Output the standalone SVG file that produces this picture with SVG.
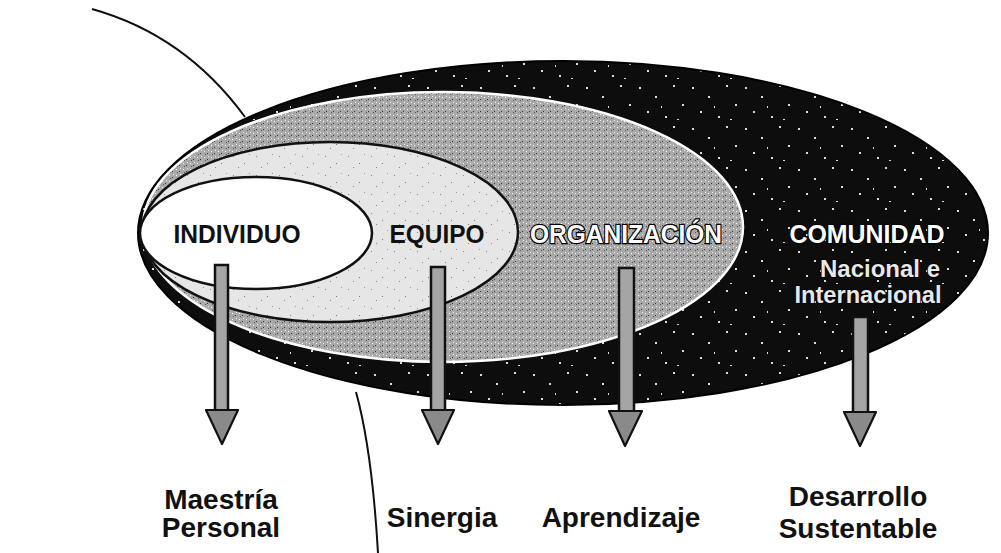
<svg xmlns="http://www.w3.org/2000/svg" width="1001" height="553" viewBox="0 0 1001 553">
<style>
.lbl{font-family:"Liberation Sans",Arial,sans-serif;font-weight:bold;font-size:28px;fill:#111;text-anchor:middle}
.top{font-family:"Liberation Sans",Arial,sans-serif;font-weight:bold;font-size:26px;text-anchor:middle}
.hollow{fill:#fff;stroke:#000;stroke-width:2.4;paint-order:stroke}
.sub{font-family:"Liberation Sans",Arial,sans-serif;font-weight:bold;font-size:24px;text-anchor:middle;fill:#e8e8e8;stroke:#000;stroke-width:1.6;paint-order:stroke}
.shaft{fill:#a5a5a5;stroke:#111;stroke-width:2.5}
.head{fill:#8a8a8a;stroke:#111;stroke-width:2.2;stroke-linejoin:round}
.line{fill:none;stroke:#111;stroke-width:2}
</style>
<defs>
<pattern id="stars" width="53" height="41" patternUnits="userSpaceOnUse">
<rect width="53" height="41" fill="#0d0d0d"/>
<g fill="#fff" opacity="0.85">
<rect x="3" y="5" width="2" height="2"/><rect x="19" y="14" width="2" height="2"/><rect x="37" y="3" width="2" height="2"/>
<rect x="46" y="22" width="2" height="2"/><rect x="11" y="29" width="2" height="2"/><rect x="29" y="34" width="2" height="2"/>
<rect x="41" y="37" width="2" height="1"/><rect x="25" y="24" width="1" height="2"/>
</g>
</pattern>
<pattern id="grain" width="7" height="6" patternUnits="userSpaceOnUse">
<rect width="7" height="6" fill="#a9a9a9"/>
<rect x="1" y="1" width="1" height="1" fill="#fff"/><rect x="4" y="3" width="1" height="1" fill="#333"/>
<rect x="5" y="0" width="1" height="1" fill="#eee"/><rect x="2" y="4" width="1" height="1" fill="#555"/>
</pattern>
<pattern id="light" width="23" height="19" patternUnits="userSpaceOnUse">
<rect width="23" height="19" fill="#e6e6e6"/>
<rect x="3" y="4" width="1" height="1" fill="#888"/><rect x="14" y="11" width="1" height="1" fill="#777"/>
<rect x="19" y="2" width="1" height="1" fill="#999"/><rect x="8" y="15" width="1" height="1" fill="#888"/>
</pattern>
</defs>

<g id="node-comunidad">
<ellipse cx="563" cy="233" rx="425" ry="172" fill="url(#stars)" stroke="#000" stroke-width="2"/>
<text class="top hollow" x="867" y="243" textLength="155" lengthAdjust="spacingAndGlyphs">COMUNIDAD</text>
<text class="sub" x="880" y="277" textLength="120" lengthAdjust="spacingAndGlyphs">Nacional e</text>
<text class="sub" x="868" y="303" textLength="147" lengthAdjust="spacingAndGlyphs">Internacional</text>
</g>

<g id="node-organizacion">
<ellipse cx="443" cy="227" rx="300" ry="135" fill="url(#grain)" stroke="#fff" stroke-width="2.5"/>
<text class="top hollow" x="626" y="243" textLength="192" lengthAdjust="spacingAndGlyphs">ORGANIZACIÓN</text>
</g>

<g id="node-equipo">
<ellipse cx="330" cy="232" rx="188" ry="90" fill="url(#light)" stroke="#111" stroke-width="2.5"/>
<text class="top" x="437" y="243" fill="#111" textLength="95" lengthAdjust="spacingAndGlyphs">EQUIPO</text>
</g>

<g id="node-individuo">
<ellipse cx="256" cy="233" rx="116" ry="56" fill="#fff" stroke="#111" stroke-width="2.5"/>
<text class="top" x="237" y="243" fill="#111" textLength="127" lengthAdjust="spacingAndGlyphs">INDIVIDUO</text>
</g>

<g id="connectors">
<path class="line" d="M92,9 Q185,35 245,117"/>
<path class="line" d="M356,392 Q372,450 378,553" stroke-width="1.6"/>
<rect class="shaft" x="215" y="265" width="13" height="146"/>
<polygon class="head" points="206,410 238,410 222,444"/>
<rect class="shaft" x="431" y="267" width="14" height="144"/>
<polygon class="head" points="422,410 454,410 438,444"/>
<rect class="shaft" x="619" y="268" width="15" height="144"/>
<polygon class="head" points="609,411 642,411 625,446"/>
<rect class="shaft" x="853" y="317" width="15" height="96"/>
<polygon class="head" points="844,412 876,412 860,446"/>
</g>

<g id="label-maestria"><text class="lbl" x="221" y="509">Maestría</text><text class="lbl" x="221" y="537">Personal</text></g>
<g id="label-sinergia"><text class="lbl" x="442" y="527">Sinergia</text></g>
<g id="label-aprendizaje"><text class="lbl" x="621" y="527">Aprendizaje</text></g>
<g id="label-desarrollo"><text class="lbl" x="858" y="506">Desarrollo</text><text class="lbl" x="858" y="538">Sustentable</text></g>
</svg>
